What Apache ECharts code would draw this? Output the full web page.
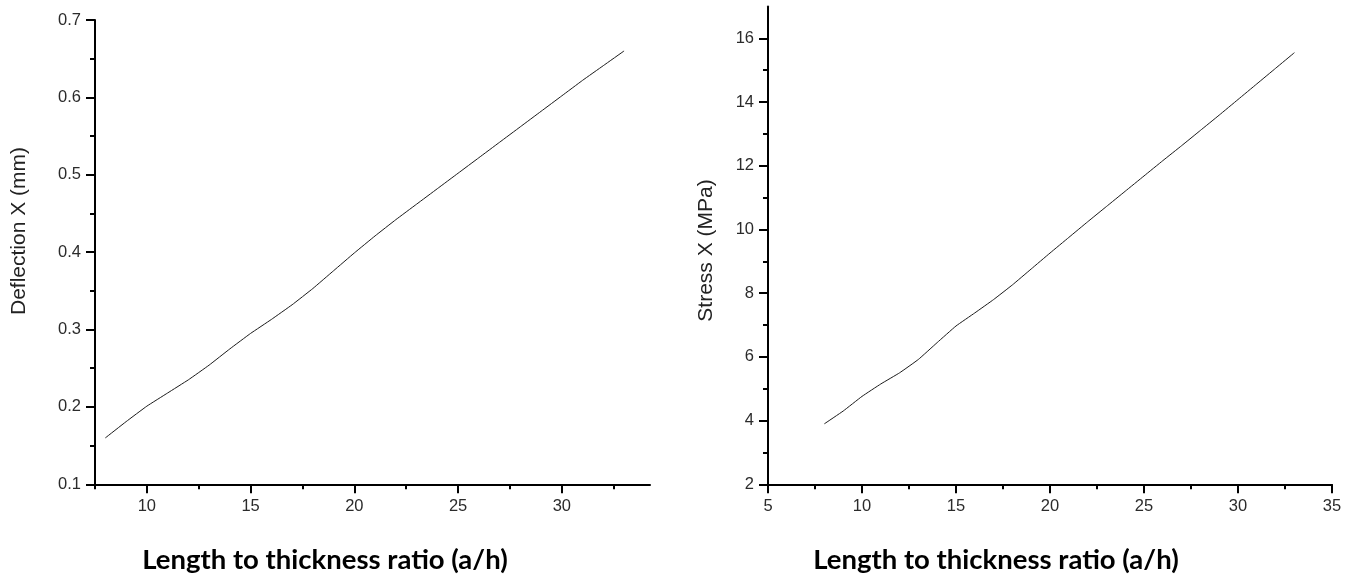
<!DOCTYPE html>
<html>
<head>
<meta charset="utf-8">
<script src="https://cdn.jsdelivr.net/npm/echarts@6/dist/echarts.min.js"></script>
<style>
  html, body { margin: 0; padding: 0; background: #ffffff; }
  #chart { width: 1358px; height: 580px; }
</style>
</head>
<body>
<div id="chart"></div>
<script>
// Length to thickness ratio (a/h)
const ratio = [8, 9, 10, 11, 12, 13, 14, 15, 16, 17, 18, 19, 20, 21, 22, 23, 24, 25, 26, 27, 28, 29, 30, 31, 32, 33];
// Deflection X (mm)
const deflection = [0.160, 0.181, 0.201, 0.218, 0.235, 0.254, 0.275, 0.295, 0.313, 0.332, 0.353, 0.376, 0.399,
                    0.421, 0.442, 0.462, 0.482, 0.502, 0.522, 0.542, 0.562, 0.582, 0.602, 0.622, 0.641, 0.660];
// Stress X (MPa)
const stress = [3.90, 4.30, 4.76, 5.15, 5.50, 5.92, 6.45, 6.97, 7.38, 7.80, 8.26, 8.76, 9.26,
                9.75, 10.24, 10.72, 11.20, 11.68, 12.16, 12.63, 13.11, 13.59, 14.08, 14.57, 15.06, 15.55];

// Tick positions
const deflXMajor = [10, 15, 20, 25, 30];
const deflXMinor = [7.5, 12.5, 17.5, 22.5, 27.5, 32.5];
const deflYMajor = [0.1, 0.2, 0.3, 0.4, 0.5, 0.6, 0.7];
const deflYMinor = [0.15, 0.25, 0.35, 0.45, 0.55, 0.65];
const stressXMajor = [5, 10, 15, 20, 25, 30, 35];
const stressXMinor = [7.5, 12.5, 17.5, 22.5, 27.5, 32.5];
const stressYMajor = [2, 4, 6, 8, 10, 12, 14, 16];
const stressYMinor = [3, 5, 7, 9, 11, 13, 15];

const xTitle = 'Length to thickness ratio (a/h)';
const leftYTitle = 'Deflection X (mm)';
const rightYTitle = 'Stress X (MPa)';

const INK = '#000000';
const LABEL = {
  color: '#2b2b2b',
  fontFamily: '"Liberation Sans", Arial, sans-serif',
  fontSize: 16.5
};

// Axis carrying the line and the numeric labels
function labelAxis(gridIndex, position, min, max, major) {
  return {
    type: 'value', gridIndex, position, offset: 0, min, max,
    splitLine: { show: false },
    axisLine: { show: true, onZero: false, lineStyle: { color: INK, width: 2 } },
    axisTick: { show: false },
    axisLabel: Object.assign({ show: true, margin: 14, customValues: major }, LABEL)
  };
}
// Companion axis carrying only tick marks of a given length
function tickAxis(gridIndex, position, min, max, values, len) {
  return {
    type: 'value', gridIndex, position, offset: 0, min, max,
    splitLine: { show: false },
    axisLine: { show: false, onZero: false },
    axisTick: { show: true, inside: false, length: len, customValues: values, lineStyle: { color: INK, width: 2 } },
    axisLabel: { show: false }
  };
}

const chart = echarts.init(document.getElementById('chart'), null, { renderer: 'canvas' });

chart.setOption({
  backgroundColor: '#ffffff',
  animation: false,
  grid: [
    { left: 95, top: 20, width: 555, height: 464.3, outerBoundsMode: 'none', containLabel: false },
    { left: 768, top: 6.5, width: 564, height: 477.8, outerBoundsMode: 'none', containLabel: false }
  ],
  xAxis: [
    labelAxis(0, 'bottom', 7.5, 34.25, deflXMajor),
    tickAxis(0, 'bottom', 7.5, 34.25, deflXMajor, 9),
    tickAxis(0, 'bottom', 7.5, 34.25, deflXMinor, 5),
    labelAxis(1, 'bottom', 5, 35, stressXMajor),
    tickAxis(1, 'bottom', 5, 35, stressXMajor, 9),
    tickAxis(1, 'bottom', 5, 35, stressXMinor, 5)
  ],
  yAxis: [
    labelAxis(0, 'left', 0.1, 0.7, deflYMajor),
    tickAxis(0, 'left', 0.1, 0.7, deflYMajor, 9),
    tickAxis(0, 'left', 0.1, 0.7, deflYMinor, 5),
    labelAxis(1, 'left', 2, 17, stressYMajor),
    tickAxis(1, 'left', 2, 17, stressYMajor, 9),
    tickAxis(1, 'left', 2, 17, stressYMinor, 5)
  ],
  series: [
    {
      type: 'line', xAxisIndex: 0, yAxisIndex: 0,
      data: ratio.map((r, i) => [r, deflection[i]]),
      showSymbol: false, smooth: 0.1,
      lineStyle: { color: '#1a1a1a', width: 1 }
    },
    {
      type: 'line', xAxisIndex: 3, yAxisIndex: 3,
      data: ratio.map((r, i) => [r, stress[i]]),
      showSymbol: false, smooth: 0.1,
      lineStyle: { color: '#1a1a1a', width: 1 }
    }
  ],
  graphic: [
    {
      type: 'text', x: 19.5, y: 231, rotation: Math.PI / 2,
      style: { text: leftYTitle, fill: '#222222', font: '21px "Liberation Sans", Arial, sans-serif',
               textAlign: 'center', textVerticalAlign: 'middle' }
    },
    {
      type: 'text', x: 706, y: 250.5, rotation: Math.PI / 2,
      style: { text: rightYTitle, fill: '#222222', font: '21px "Liberation Sans", Arial, sans-serif',
               textAlign: 'center', textVerticalAlign: 'middle' }
    },
    {
      type: 'text', x: 325, y: 560,
      style: { text: xTitle, fill: '#000000', font: 'bold 27.5px Lato, "Open Sans", sans-serif',
               textAlign: 'center', textVerticalAlign: 'middle' }
    },
    {
      type: 'text', x: 996, y: 560,
      style: { text: xTitle, fill: '#000000', font: 'bold 27.5px Lato, "Open Sans", sans-serif',
               textAlign: 'center', textVerticalAlign: 'middle' }
    }
  ]
});
</script>
</body>
</html>
